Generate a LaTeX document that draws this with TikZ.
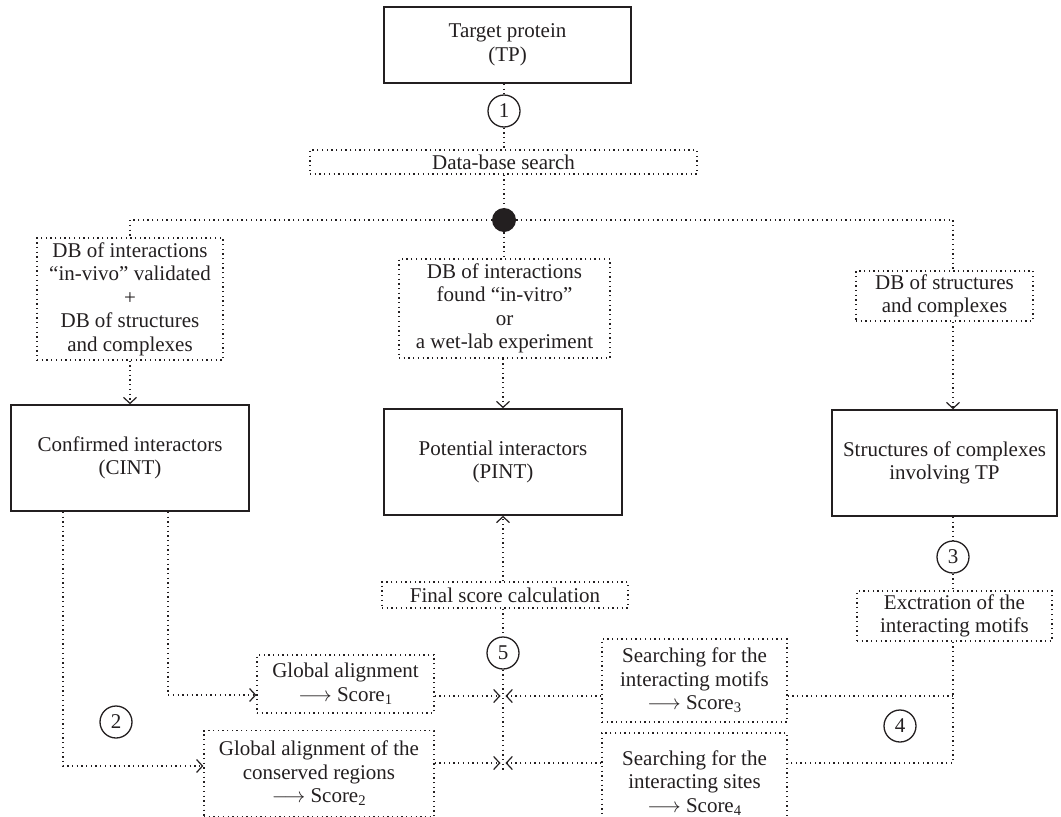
\documentclass[tikz,border=0pt]{standalone}
\usepackage{fontspec}
\setmainfont{Liberation Serif}
\usetikzlibrary{arrows.meta}
\definecolor{ink}{HTML}{231F20}

\begin{document}
\begin{tikzpicture}[
    x=1pt, y=-1pt,
    every node/.style={text=ink, font=\fontsize{21}{23.5}\selectfont, align=center, inner sep=0pt},
    mainbox/.style={rectangle, draw=ink, line width=1.6pt},
    dotbox/.style={rectangle, draw=ink, line width=1.3pt, dash pattern=on 1.3pt off 3.4pt},
    num/.style={circle, draw=ink, line width=1.3pt, minimum size=32pt},
    hubdot/.style={circle, fill=ink, minimum size=24pt},
    link/.style={draw=ink, line width=1.3pt, dash pattern=on 1.3pt off 3.4pt},
    arr/.style={link, -{Straight Barb[length=6pt, width=13pt, line width=1.2pt]}}
]
    \useasboundingbox (0,0) rectangle (1061,817);

    % top of the chain
    \node [mainbox, minimum width=247pt, minimum height=76pt] (tp) at (507.5,45) {Target protein\\(TP)};
    \node [num] (c1) at (504,111) {1};
    \node [dotbox, minimum width=387pt, minimum height=24pt] (dbsearch) at (503.5,162) {Data-base search};
    \node [hubdot] (hub) at (504,220) {};

    % the three data bases
    \node [dotbox, minimum width=186pt, minimum height=122pt] (dbvivo) at (130,299) {DB of interactions\\“in-vivo” validated\\+\\DB of structures\\and complexes};
    \node [dotbox, minimum width=211pt, minimum height=99pt] (dbvitro) at (504.5,308.5) {DB of interactions\\found “in-vitro”\\or\\a wet-lab experiment};
    \node [dotbox, minimum width=177pt, minimum height=50pt] (dbstruct) at (944.5,296) {DB of structures\\and complexes};

    \node [mainbox, minimum width=238pt, minimum height=106pt] (cint) at (130,458) {Confirmed interactors\\(CINT)};
    \node [mainbox, minimum width=238pt, minimum height=106pt] (pint) at (503,462) {Potential interactors\\(PINT)};
    \node [mainbox, minimum width=225pt, minimum height=106pt] (sctp) at (944.5,463) {Structures of complexes\\involving TP};

    % scoring
    \node [num] (c3) at (953,557) {3};
    \node [dotbox, minimum width=195pt, minimum height=50pt] (extract) at (954.5,616) {Exctration of the\\interacting motifs};
    \node [dotbox, minimum width=246pt, minimum height=26pt] (final) at (505,595) {Final score calculation};
    \node [num] (c5) at (503,653) {5};
    \node [dotbox, minimum width=177pt, minimum height=58pt] (galign) at (345.5,684) {Global alignment\\\ensuremath{\longrightarrow} Score\textsubscript{1}};
    \node [dotbox, minimum width=230pt, minimum height=86pt] (gcons) at (319,773.5) {Global alignment of the\\conserved regions\\\ensuremath{\longrightarrow} Score\textsubscript{2}};
    \node [dotbox, minimum width=185pt, minimum height=83pt] (smotif) at (694.5,680.5) {Searching for the\\interacting motifs\\\ensuremath{\longrightarrow} Score\textsubscript{3}};
    \node [dotbox, minimum width=185pt, minimum height=100pt] (ssite) at (694.5,783) {Searching for the\\interacting sites\\\ensuremath{\longrightarrow} Score\textsubscript{4}};
    \node [num] (c2) at (116,722) {2};
    \node [num] (c4) at (900,726) {4};

    \coordinate (m1) at (503,696);
    \coordinate (m2) at (503,763);
    \coordinate (mend) at (503,773);
    \coordinate (la) at (63,766);
    \coordinate (lb) at (168,695);
    \coordinate (j4) at (953,763);

    % connectors
    \draw [link] (c1 |- tp.south) -- (c1) -- (c1 |- dbsearch.north);
    \draw [link] (hub |- dbsearch.south) -- (hub) -- (hub |- dbvitro.north);
    \draw [link] (hub) -| (dbvivo.north);
    \draw [link] (hub) -| (c3 |- dbstruct.north);
    \draw [arr] (dbvivo.south) -- (cint.north);
    \draw [arr] (dbvitro.south -| pint) -- (pint.north);
    \draw [arr] (c3 |- dbstruct.south) -- (c3 |- sctp.north);
    \draw [link] (c3 |- sctp.south) -- (c3) -- (c3 |- extract.north);
    \draw [link] (j4 |- extract.south) -- (j4) -- (j4 -| ssite.east);
    \draw [link] (smotif.east |- m1) -- (m1 -| j4);
    \draw [arr] (final.north -| pint) -- (pint.south);
    \draw [link] (c5 |- final.south) -- (c5) -- (mend);
    \draw [arr, shorten >=2.5pt] (galign.east |- m1) -- (m1);
    \draw [arr, shorten >=2.5pt] (smotif.west |- m1) -- (m1);
    \draw [arr, shorten >=2.5pt] (gcons.east |- m2) -- (m2);
    \draw [arr, shorten >=2.5pt] (ssite.west |- m2) -- (m2);
    \draw [arr] (cint.south -| la) |- (gcons.west |- la);
    \draw [arr] (cint.south -| lb) |- (galign.west |- lb);
\end{tikzpicture}
\end{document}
